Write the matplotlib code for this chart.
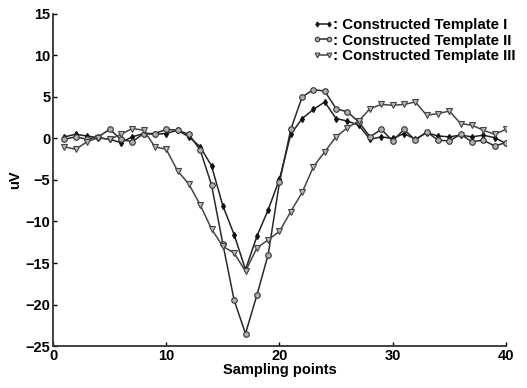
import matplotlib
matplotlib.use("Agg")
import matplotlib.pyplot as plt
import numpy as np

plt.rcParams['font.family'] = ['Liberation Sans', 'DejaVu Sans']

x = list(range(1, 41))
template_1 = [0.2, 0.5, 0.3, 0.1, -0.1, -0.5, 0.2, 0.6, 0.5, 0.6,
              1.0, 0.2, -1.0, -3.3, -8.1, -11.6, -15.8, -11.8, -8.6, -4.9,
              0.5, 2.4, 3.5, 4.4, 2.4, 2.1, 1.6, -0.1, 0.2, 0.0,
              0.6, -0.1, 0.7, 0.3, 0.2, 0.4, 0.2, 0.4, 0.1, -0.6]
template_2 = [-0.1, 0.2, -0.1, 0.2, 1.1, -0.1, -0.4, 0.6, 0.6, 1.1,
              1.0, 0.5, -1.4, -5.6, -12.7, -19.5, -23.5, -18.9, -14.0, -5.3,
              1.1, 5.0, 5.9, 5.7, 3.6, 3.2, 2.0, 0.2, 1.1, -0.3,
              1.1, -0.2, 0.8, -0.2, -0.3, 0.5, -0.4, -0.2, -0.9, -0.5]
template_3 = [-1.0, -1.3, -0.4, 0.1, -0.1, 0.5, 1.2, 1.0, -1.0, -1.3,
              -3.9, -5.5, -8.0, -10.9, -13.0, -13.8, -16.0, -13.2, -12.2, -11.2,
              -8.8, -6.5, -3.4, -1.6, 0.2, 1.3, 2.1, 3.6, 4.1, 4.0,
              4.1, 4.4, 2.8, 3.0, 3.3, 1.8, 1.6, 1.0, 0.5, 1.1]
labels = [': Constructed Template I', ': Constructed Template II', ': Constructed Template III']
x_ticks = [0, 10, 20, 30, 40]
y_ticks = [-25, -20, -15, -10, -5, 0, 5, 10, 15]

fig = plt.figure(figsize=(5.27, 3.88), dpi=100)
ax = fig.add_axes([0.1006, 0.1082, 0.8594, 0.8558])

ax.plot(x, template_1, color='#222222', lw=1.1, marker='d', ms=3.0,
        mfc='#111111', mec='#111111', label=labels[0])
ax.plot(x, template_2, color='#2a2a2a', lw=1.1, marker='o', ms=4.0,
        mfc='#b0b0b0', mec='#333333', mew=0.8, label=labels[1])
ax.plot(x, template_3, color='#444444', lw=1.1, marker='v', ms=4.3,
        mfc='#b8b8b8', mec='#444444', mew=0.8, label=labels[2])

ax.set_xlim(0, 40)
ax.set_ylim(-25, 15)
ax.set_xticks(x_ticks)
ax.set_yticks(y_ticks)
ax.tick_params(direction='in', length=3, width=1, labelsize=10.5, pad=2)
for lab in ax.get_xticklabels() + ax.get_yticklabels():
    lab.set_fontweight('bold')
for s in ['top', 'right']:
    ax.spines[s].set_visible(False)
for s in ['left', 'bottom']:
    ax.spines[s].set_linewidth(1.3)
    ax.spines[s].set_color('#333333')

ax.set_xlabel('Sampling points', fontsize=10.5, fontweight='bold', labelpad=0)
ax.set_ylabel('uV', fontsize=10.5, fontweight='bold', labelpad=2)

leg = ax.legend(loc='upper right', bbox_to_anchor=(1.045, 1.02), frameon=False,
                prop={'weight': 'bold', 'size': 10.8}, handlelength=1.4,
                handletextpad=0.0, labelspacing=0.12, borderpad=0.2,
                numpoints=2, markerscale=0.8)

fig.savefig('out.png', dpi=100)
